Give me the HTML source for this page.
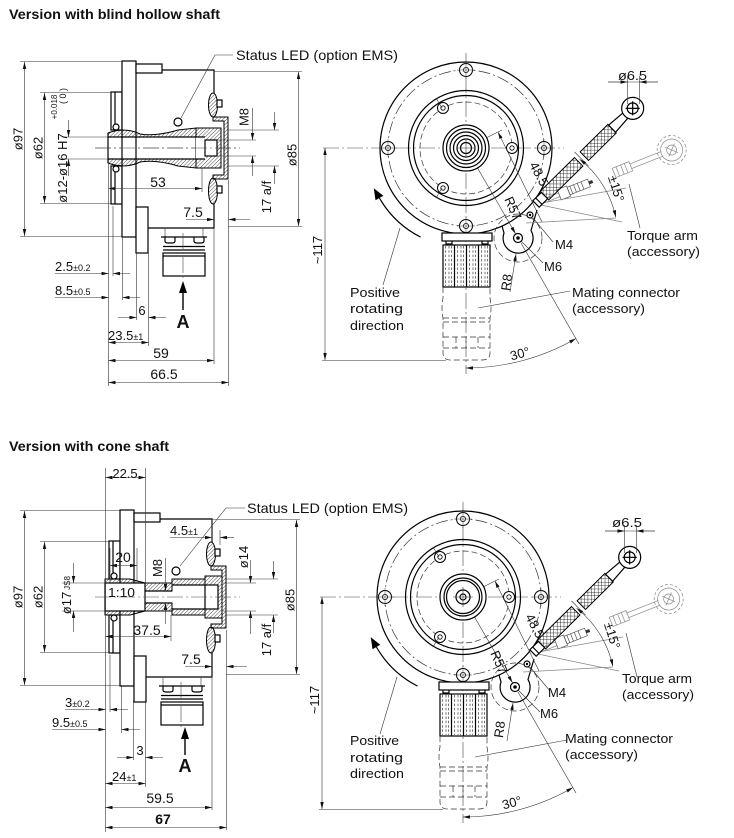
<!DOCTYPE html>
<html><head><meta charset="utf-8"><title>Encoder dimension drawing</title>
<style>
html,body{margin:0;padding:0;background:#fff;width:734px;height:838px;overflow:hidden}
svg{display:block}
text{font-family:"Liberation Sans",Arial,sans-serif;fill:#111}
.o{fill:none;stroke:#000;stroke-width:1.2}
.w{fill:#fff;stroke:#000;stroke-width:1.2}
.t{fill:none;stroke:#333;stroke-width:0.6}
.cl{fill:none;stroke:#444;stroke-width:0.6;stroke-dasharray:16 3 2 3}
.dd{fill:none;stroke:#333;stroke-width:0.7;stroke-dasharray:12 3 2 3}
.ds{fill:none;stroke:#333;stroke-width:0.7;stroke-dasharray:6 3}
.h{fill:url(#ht);stroke:#000;stroke-width:1}
.x{fill:url(#xh);stroke:#000;stroke-width:1}
.g{fill:none;stroke:#888;stroke-width:0.7}
</style></head><body>
<svg width="734" height="838" viewBox="0 0 734 838" xmlns="http://www.w3.org/2000/svg">
<defs>
<marker id="a" viewBox="0 0 8 4" refX="8" refY="2" markerWidth="7" markerHeight="3.5" orient="auto-start-reverse" markerUnits="userSpaceOnUse"><path d="M0,0L8,2L0,4z" fill="#111"/></marker>
<marker id="B" viewBox="0 0 10 8" refX="0" refY="4" markerWidth="12" markerHeight="9" orient="auto" markerUnits="userSpaceOnUse"><path d="M0,0L10,4L0,8z" fill="#000"/></marker>
<pattern id="ht" width="2.6" height="2.6" patternUnits="userSpaceOnUse" patternTransform="rotate(45)"><line x1="0" y1="0" x2="0" y2="2.6" stroke="#000" stroke-width="0.7"/></pattern>
<pattern id="xh" width="3.4" height="3.4" patternUnits="userSpaceOnUse" patternTransform="rotate(45)"><path d="M0,0H3.4M0,0V3.4" stroke="#000" stroke-width="0.8"/></pattern>

<g id="bo"><circle r="6.5" fill="#fff" stroke="#000" stroke-width="1"/><circle r="2.6" fill="none" stroke="#000" stroke-width="0.8"/><path d="M-9,0H9M0,-9V9" stroke="#444" stroke-width="0.5"/></g>
<g id="bi"><circle r="5.5" fill="#fff" stroke="#000" stroke-width="1"/><circle r="2.2" fill="none" stroke="#000" stroke-width="0.8"/></g>

<!-- left view common body (top coords) -->
<g id="lvb">
 <rect x="111" y="92" width="11" height="38" class="w" stroke-width="1"/>
 <line x1="115" y1="92" x2="115" y2="124" class="o" stroke-width="0.8"/>
 <circle cx="116" cy="127" r="3" class="w" stroke-width="0.9"/>
 <rect x="111" y="166" width="11" height="38" class="w" stroke-width="1"/>
 <line x1="115" y1="172" x2="115" y2="204" class="o" stroke-width="0.8"/>
 <circle cx="116" cy="169" r="3" class="w" stroke-width="0.9"/>
 <rect x="122" y="61" width="14" height="176" class="w" stroke-width="1.3"/>
 <rect x="136" y="64" width="26" height="9" class="w"/>
 <path class="o" d="M162,70H214V93M214,204V228H148"/>
 <rect x="136" y="207" width="12" height="46" class="w"/>
 <path class="h" d="M213,117H228V179H213V175H224V121H213Z"/>
 <ellipse cx="213" cy="105" rx="4.5" ry="12" class="h"/>
 <ellipse cx="213" cy="191" rx="4.5" ry="13" class="h"/>
 <rect x="217" y="100" width="5" height="7" class="w" stroke-width="0.8"/>
 <rect x="217" y="186" width="5" height="7" class="w" stroke-width="0.8"/>
 <circle cx="178" cy="122" r="4" class="w" stroke-width="1"/>
 <!-- connector -->
 <path class="t" d="M165,228V237M203,228V237"/>
 <path class="o" d="M161,237H207"/>
 <path class="o" stroke-width="0.9" d="M165,237v4q0,2 3,2h4q3,0 3,-2v-4M194,237v4q0,2 3,2h4q3,0 3,-2v-4"/>
 <path class="o" stroke-width="1.6" d="M163,246.5H205M163,250H205"/>
 <rect x="163" y="253" width="42" height="23" class="w"/>
 <line x1="163" y1="256" x2="205" y2="256" class="o" stroke-width="0.6"/>
 <line x1="183" y1="233" x2="183" y2="279" class="cl"/>
</g>

<!-- right view common (relative to hub centre) -->
<g id="rv">
 <line class="cl" x1="-143" y1="0" x2="98" y2="0"/>
 <line class="cl" x1="0" y1="-95" x2="0" y2="226"/>
 <circle r="86" class="o" stroke-width="1.4"/>
 <circle r="78" class="dd"/>
 <circle r="57.5" class="o" stroke-width="1.6"/>
 <circle r="52.5" class="o"/>
 <circle r="46" class="ds"/>
 <use href="#bo" x="0" y="-78"/><use href="#bo" x="-78" y="0"/><use href="#bo" x="78" y="0"/><use href="#bo" x="0" y="78"/>
 <use href="#bi" x="46" y="0"/><use href="#bi" x="-23" y="-40"/><use href="#bi" x="-23" y="40"/>
 <path class="t" d="M-30,-50l6,10M-30,50l6,-10"/>
 <!-- connector -->
 <rect x="-24" y="85" width="50" height="8" class="w" stroke-width="1.3"/>
 <path class="o" stroke-width="0.9" d="M-20,93v3h6v-3M16,93v3h6v-3"/>
 <rect x="-23" y="97" width="47" height="42" class="w"/>
 <g stroke="#555" stroke-width="0.8" stroke-dasharray="2.5 1.8">
  <path d="M-20.5,98V138M-17,98V138M-14.5,98V138M-8.5,98V138M-5,98V138M-2.5,98V138M3.5,98V138M7,98V138M9.5,98V138M15.5,98V138M19,98V138M21.5,98V138"/>
 </g>
 <path class="o" stroke-width="1.1" d="M-11.5,97V139M0.5,97V139M12.5,97V139"/>
 <path class="ds" d="M-23,139V150Q-25,160 -23,170V205Q-23,212 -15,212H16Q24,212 24,205V170Q26,160 24,150V139"/>
 <path class="ds" d="M-23,170H24M-23,174H24M-23,189H24M-23,200H24M-10,189V200M0,189V200M12,189V200"/>
 <!-- lug / pivot -->
 <path class="o" d="M36,78L38,85A15,15 0 1 0 65,82.5L71,62"/>
 <circle cx="52" cy="90" r="4.5" class="w"/><circle cx="52" cy="90" r="1.8" fill="#000"/>
 <circle cx="64" cy="67" r="3" class="w"/><circle cx="64" cy="67" r="1.2" fill="#000"/>
 <circle cx="52" cy="90" r="24" class="ds" stroke-dasharray="3 3"/>
 <!-- ghost arm -->
 <g transform="translate(70,56) rotate(-21.7)" class="g">
  <path d="M0,-2H25M0,2H25"/>
  <rect x="25" y="-5.5" width="10" height="11" stroke="#555"/>
  <rect x="35" y="-4" width="22" height="8" stroke="#555"/>
  <path d="M38,-4V4M42,-4V4M46,-4V4M50,-4V4" stroke="#555"/>
  <rect x="57" y="-1.5" width="4" height="3" fill="#333" stroke="none"/>
  <rect x="84" y="-5" width="18" height="10"/>
  <path d="M88,-5V5M93,-5V5M97,-5V5"/>
  <path d="M102,-2.5H136M102,2.5H136"/>
  <circle cx="146" r="11"/><circle cx="146" r="14.5" stroke-dasharray="3 2"/><circle cx="146" r="5"/>
  <path d="M141,-5L151,5M141,5L151,-5"/>
 </g>
 <path class="g" d="M70,56L160,40M70,56L156,74M60,75L150,70"/>
 <!-- main arm -->
 <g transform="translate(70,56) rotate(-44.7)">
  <rect x="0" y="-4.5" width="12" height="9" class="w"/>
  <line x1="4" y1="-4.5" x2="4" y2="4.5" class="o" stroke-width="0.8"/>
  <rect x="12" y="-6" width="48" height="12" class="x"/>
  <rect x="68" y="-6" width="39" height="12" class="x"/>
  <path class="w" d="M107,-5L127,-3.5V3.5L107,5Z"/>
  <circle cx="136" r="11" class="w" stroke-width="1.3"/>
  <circle cx="136" r="5.5" class="o"/>
  <path d="M131,-5L141,5M131,5L141,-5" class="o" stroke-width="0.7"/>
  <path class="t" d="M64,-10V10"/>
 </g>
 <!-- positive rotating arrow -->
 <path class="o" stroke-width="1.6" d="M-45.4,89.1A100,100 0 0 1 -86.6,50" marker-end="url(#B)"/>
 <!-- dims -->
 <path class="t" d="M0,0L49.5,85.7" marker-end="url(#a)"/>
 <path class="t" d="M55,95L113,196"/>
 <path class="t" d="M0,220A220,220 0 0 0 110,190.5" marker-start="url(#a)" marker-end="url(#a)"/>
 <path class="t" d="M0,0L36,-18"/>
 <path class="t" d="M32,-16L76,74" marker-start="url(#a)"/>
 <path class="t" d="M113.6,11.2A100,100 0 0 1 149.8,69.2" marker-start="url(#a)" marker-end="url(#a)"/>
 <path class="t" d="M161.5,-72V-44M173.5,-72V-44M142,-66H192"/>
 <path class="t" d="M142,-66H161.5" marker-end="url(#a)"/>
 <path class="t" d="M192,-66H173.5" marker-end="url(#a)"/>
 <path class="t" d="M44,144L50,106" marker-end="url(#a)"/>
 <path class="t" d="M-141,0V212" marker-start="url(#a)" marker-end="url(#a)"/>
 <path class="t" d="M-144,212.5H-20"/>
 <!-- leaders -->
 <path class="t" d="M-83,137L-66,80"/>
 <path class="t" d="M104,143L12,160"/>
 <path class="t" d="M87,94L67,70"/>
 <path class="t" d="M77,115L55,93"/>
 <path class="t" d="M174,80L163,36"/>
</g>
</defs>

<rect width="734" height="838" fill="#fff"/>

<!-- ================= TOP: blind hollow shaft ================= -->
<text x="9" y="19" font-size="14" font-weight="bold" textLength="211" lengthAdjust="spacingAndGlyphs">Version with blind hollow shaft</text>

<line class="cl" x1="95" y1="148" x2="240" y2="148"/>
<use href="#lvb"/>
<!-- shaft -->
<path class="h" d="M108,133C118,129 130,129 140,134C150,136 165,134 178,130L196,128V137H108Z"/>
<path class="h" d="M108,163C118,167 130,167 140,162C150,160 165,162 178,166L196,168V159H108Z"/>
<path class="h" d="M196,128H221V168H196Z"/>
<rect x="196" y="137" width="10" height="22" fill="#fff"/>
<rect x="205" y="140" width="12" height="16" class="w" stroke-width="1"/>
<path class="o" d="M108,133V163M108,137H205M108,159H205"/>
<line class="cl" x1="95" y1="148" x2="240" y2="148"/>

<!-- status LED top -->
<path class="t" d="M233,55H215L181,118"/>
<text x="236" y="60" font-size="14" textLength="162" lengthAdjust="spacingAndGlyphs">Status LED (option EMS)</text>

<!-- dims top-left -->
<path class="t" d="M20,61.5H122M20,236.5H122M40,92.5H111M40,203.5H111M62,137H108M62,159H108"/>
<path class="t" d="M24.5,62V236" marker-start="url(#a)" marker-end="url(#a)"/>
<path class="t" d="M44.5,93V203" marker-start="url(#a)" marker-end="url(#a)"/>
<path class="t" d="M68.5,120V137" marker-end="url(#a)"/>
<path class="t" d="M68.5,176V159" marker-end="url(#a)"/>
<text transform="translate(22.5,139) rotate(-90)" text-anchor="middle" font-size="13">ø97</text>
<text transform="translate(42.5,148) rotate(-90)" text-anchor="middle" font-size="13">ø62</text>
<text transform="translate(67,168) rotate(-90)" text-anchor="middle" font-size="13">ø12-ø16 H7</text>
<text transform="translate(57,107) rotate(-90)" text-anchor="middle" font-size="8">+0.018</text>
<text transform="translate(66,96) rotate(-90)" text-anchor="middle" font-size="9">( 0 )</text>

<path class="t" d="M202,168V192"/>
<path class="t" d="M108.5,188.5H202" marker-start="url(#a)" marker-end="url(#a)"/>
<text x="158" y="187" font-size="14" text-anchor="middle">53</text>

<path class="t" d="M186,219.5H214" marker-end="url(#a)"/>
<path class="t" d="M250,219.5H228.5" marker-end="url(#a)"/>
<text x="193" y="217" font-size="14" text-anchor="middle">7.5</text>

<path class="t" d="M217,140H256M217,156H256"/>
<path class="t" d="M252.5,108V140" marker-end="url(#a)"/>
<path class="t" d="M252.5,176V156" marker-end="url(#a)"/>
<text transform="translate(248.5,117) rotate(-90)" text-anchor="middle" font-size="13">M8</text>

<path class="t" d="M228,130H279M228,166H279"/>
<path class="t" d="M274.5,112V130" marker-end="url(#a)"/>
<path class="t" d="M274.5,184V166" marker-end="url(#a)"/>
<text transform="translate(271,197) rotate(-90)" text-anchor="middle" font-size="13">17 a/f</text>

<path class="t" d="M214,71.5H302M228,226.5H302"/>
<path class="t" d="M298.5,72V226" marker-start="url(#a)" marker-end="url(#a)"/>
<text transform="translate(296.5,155) rotate(-90)" text-anchor="middle" font-size="13">ø85</text>

<!-- bottom dims top-left -->
<path class="t" d="M108.5,163V386M113,206V276M122.5,237V300M136.5,253V320M148.5,253V346M214,228V364M228.5,180V386"/>
<path class="t" d="M55,273.5H108.5" marker-end="url(#a)"/>
<path class="t" d="M130,273.5H113" marker-end="url(#a)"/>
<text x="55" y="271" font-size="13">2.5<tspan font-size="9">±0.2</tspan></text>
<path class="t" d="M55,297.5H108.5" marker-end="url(#a)"/>
<path class="t" d="M140,297.5H122.5" marker-end="url(#a)"/>
<text x="55" y="295" font-size="13">8.5<tspan font-size="9">±0.5</tspan></text>
<path class="t" d="M118,317.5H136.5" marker-end="url(#a)"/>
<path class="t" d="M166,317.5H148.5" marker-end="url(#a)"/>
<text x="142" y="315" font-size="13" text-anchor="middle">6</text>
<path class="t" d="M108.5,342.5H148.5" marker-start="url(#a)" marker-end="url(#a)"/>
<text x="108" y="340" font-size="13">23.5<tspan font-size="9">±1</tspan></text>
<path class="t" d="M108.5,360.5H214" marker-start="url(#a)" marker-end="url(#a)"/>
<text x="161" y="358" font-size="14" text-anchor="middle">59</text>
<path class="t" d="M108.5,382.5H228.5" marker-start="url(#a)" marker-end="url(#a)"/>
<text x="164" y="379" font-size="14" text-anchor="middle">66.5</text>

<!-- view arrow A top -->
<polygon points="183,281 179,293 187,293" fill="#000"/>
<line x1="183" y1="292" x2="183" y2="310" stroke="#000" stroke-width="1.4"/>
<text x="183" y="328" font-size="18" font-weight="bold" text-anchor="middle">A</text>

<!-- right view top -->
<use href="#rv" x="466" y="148"/>
<g transform="translate(466,148)">
 <circle r="23" class="w" stroke-width="1.4"/>
 <circle r="19.5" class="o" stroke-width="1.2"/>
 <circle r="16" class="o" stroke-width="1.2"/>
 <circle r="12.5" class="o" stroke-width="1.2"/>
 <circle r="9" class="o" stroke-width="1.2"/>
 <circle r="5.5" class="o" stroke-width="1.3"/>
 <path class="t" d="M-8,0H8M0,-8V8"/>
</g>
<text transform="translate(322,250) rotate(-90)" text-anchor="middle" font-size="13">~117</text>
<text x="618" y="80" font-size="13" textLength="29" lengthAdjust="spacingAndGlyphs">ø6.5</text>
<text transform="translate(612,190) rotate(72)" text-anchor="middle" font-size="13">±15°</text>
<text transform="translate(535,176) rotate(62)" text-anchor="middle" font-size="13">48.5</text>
<text transform="translate(509,210) rotate(66)" text-anchor="middle" font-size="13">R57</text>
<text transform="translate(511,283) rotate(-82)" text-anchor="middle" font-size="13">R8</text>
<text transform="translate(521,358) rotate(-15)" text-anchor="middle" font-size="13">30°</text>
<text x="627" y="240" font-size="13" textLength="71" lengthAdjust="spacingAndGlyphs">Torque arm</text>
<text x="627" y="256" font-size="13" textLength="73" lengthAdjust="spacingAndGlyphs">(accessory)</text>
<text x="555" y="249" font-size="13">M4</text>
<text x="544" y="271" font-size="13">M6</text>
<text x="572" y="297" font-size="13" textLength="108" lengthAdjust="spacingAndGlyphs">Mating connector</text>
<text x="572" y="313" font-size="13" textLength="73" lengthAdjust="spacingAndGlyphs">(accessory)</text>
<text x="350" y="297" font-size="13" textLength="50" lengthAdjust="spacingAndGlyphs">Positive</text>
<text x="350" y="313" font-size="13" textLength="53" lengthAdjust="spacingAndGlyphs">rotating</text>
<text x="350" y="330" font-size="13" textLength="54" lengthAdjust="spacingAndGlyphs">direction</text>

<!-- ================= BOTTOM: cone shaft ================= -->
<text x="9" y="451" font-size="14" font-weight="bold" textLength="160" lengthAdjust="spacingAndGlyphs">Version with cone shaft</text>

<use href="#lvb" transform="translate(-2,449)"/>
<!-- cone shaft -->
<rect x="105" y="583" width="40" height="28" class="w"/>
<path class="h" d="M105,579H130L145,583H105Z"/>
<path class="h" d="M105,615H130L145,611H105Z"/>
<rect x="145" y="583" width="27" height="8" class="h"/>
<rect x="145" y="603" width="27" height="8" class="h"/>
<path class="h" d="M172,579H205V585H172Z"/>
<path class="h" d="M172,609H205V615H172Z"/>
<path class="h" d="M205,576H222V618H205Z"/>
<rect x="205" y="585" width="13" height="24" class="w" stroke-width="1"/>
<path class="o" d="M145,591H172M145,603H172M172,585H205M172,609H205"/>
<text x="108" y="597" font-size="13" textLength="27" lengthAdjust="spacingAndGlyphs">1:10</text>
<line class="cl" x1="95" y1="597" x2="240" y2="597"/>

<path class="t" d="M245,508H226L180,566"/>
<text x="247" y="513" font-size="14" textLength="161" lengthAdjust="spacingAndGlyphs">Status LED (option EMS)</text>

<!-- dims bottom-left -->
<path class="t" d="M105.5,468V832M145.5,468V583"/>
<path class="t" d="M105.5,477.5H145.5" marker-start="url(#a)" marker-end="url(#a)"/>
<text x="125" y="478" font-size="13" text-anchor="middle">22.5</text>

<path class="t" d="M20,510.5H120M20,685.5H120M40,541.5H110M40,652.5H110M62,583H105M62,611H105"/>
<path class="t" d="M24.5,511V685" marker-start="url(#a)" marker-end="url(#a)"/>
<path class="t" d="M44.5,542V652" marker-start="url(#a)" marker-end="url(#a)"/>
<path class="t" d="M73.5,563V583" marker-end="url(#a)"/>
<path class="t" d="M73.5,632V611" marker-end="url(#a)"/>
<text transform="translate(22.5,597) rotate(-90)" text-anchor="middle" font-size="13">ø97</text>
<text transform="translate(42.5,597) rotate(-90)" text-anchor="middle" font-size="13">ø62</text>
<text transform="translate(71,603) rotate(-90)" text-anchor="middle" font-size="13">ø17</text>
<text transform="translate(70,583) rotate(-90)" text-anchor="middle" font-size="8">JS8</text>

<path class="t" d="M110,548V583M137,548V583"/>
<path class="t" d="M110,565.5H137" marker-start="url(#a)" marker-end="url(#a)"/>
<text x="123" y="562" font-size="14" text-anchor="middle">20</text>

<path class="t" d="M165.5,558V591" marker-end="url(#a)"/>
<path class="t" d="M165.5,624V603" marker-end="url(#a)"/>
<text transform="translate(162,568) rotate(-90)" text-anchor="middle" font-size="13">M8</text>

<path class="t" d="M212,518V541M220,530V545"/>
<path class="t" d="M170,537.5H212" marker-end="url(#a)"/>
<path class="t" d="M234,537.5H220" marker-end="url(#a)"/>
<text x="170" y="535" font-size="13">4.5<tspan font-size="9">±1</tspan></text>

<path class="t" d="M223,583H256M223,611H256"/>
<path class="t" d="M250.5,560V583" marker-end="url(#a)"/>
<path class="t" d="M250.5,634V611" marker-end="url(#a)"/>
<text transform="translate(248,557) rotate(-90)" text-anchor="middle" font-size="13">ø14</text>

<path class="t" d="M171,615V641"/>
<path class="t" d="M105.5,636.5H171" marker-start="url(#a)" marker-end="url(#a)"/>
<text x="147" y="635" font-size="14" text-anchor="middle">37.5</text>

<path class="t" d="M185,666.5H212" marker-end="url(#a)"/>
<path class="t" d="M247,666.5H226.5" marker-end="url(#a)"/>
<text x="191" y="664" font-size="14" text-anchor="middle">7.5</text>

<path class="t" d="M226,579H278M226,615H278"/>
<path class="t" d="M273.5,561V579" marker-end="url(#a)"/>
<path class="t" d="M273.5,633V615" marker-end="url(#a)"/>
<text transform="translate(271,640) rotate(-90)" text-anchor="middle" font-size="13">17 a/f</text>

<path class="t" d="M212,519.5H300M226,674.5H300"/>
<path class="t" d="M296.5,520V674" marker-start="url(#a)" marker-end="url(#a)"/>
<text transform="translate(294.5,600) rotate(-90)" text-anchor="middle" font-size="13">ø85</text>

<path class="t" d="M110,655V712M121.5,685V733M133.5,700V760M145.5,700V787M212,676V810M226.5,630V830"/>
<path class="t" d="M65,709.5H105.5" marker-end="url(#a)"/>
<path class="t" d="M128,709.5H110" marker-end="url(#a)"/>
<text x="65" y="707" font-size="13">3<tspan font-size="9">±0.2</tspan></text>
<path class="t" d="M52,729.5H105.5" marker-end="url(#a)"/>
<path class="t" d="M140,729.5H121.5" marker-end="url(#a)"/>
<text x="52" y="727" font-size="13">9.5<tspan font-size="9">±0.5</tspan></text>
<path class="t" d="M117,757.5H133.5" marker-end="url(#a)"/>
<path class="t" d="M163,757.5H145.5" marker-end="url(#a)"/>
<text x="140" y="755" font-size="13" text-anchor="middle">3</text>
<path class="t" d="M105.5,783.5H145.5" marker-start="url(#a)" marker-end="url(#a)"/>
<text x="112" y="781" font-size="13">24<tspan font-size="9">±1</tspan></text>
<path class="t" d="M105.5,807.5H212" marker-start="url(#a)" marker-end="url(#a)"/>
<text x="160" y="803" font-size="14" text-anchor="middle">59.5</text>
<path class="t" d="M105.5,827.5H226.5" marker-start="url(#a)" marker-end="url(#a)"/>
<text x="163" y="824" font-size="14" font-weight="bold" text-anchor="middle">67</text>

<polygon points="185,727 181,739 189,739" fill="#000"/>
<line x1="185" y1="738" x2="185" y2="755" stroke="#000" stroke-width="1.4"/>
<text x="185" y="772" font-size="18" font-weight="bold" text-anchor="middle">A</text>

<!-- right view bottom -->
<use href="#rv" x="463" y="597"/>
<g transform="translate(463,597)">
 <circle r="23" class="w" stroke-width="1.4"/>
 <circle r="19" class="o" stroke-width="1.2"/>
 <circle r="16.5" class="o" stroke-width="0.8"/>
 <circle r="7" class="o" stroke-width="1.2"/>
 <circle r="3" class="o" stroke-width="0.8"/>
 <path class="t" d="M-10,0H10M0,-10V10"/>
</g>
<text transform="translate(319,700) rotate(-90)" text-anchor="middle" font-size="13">~117</text>
<text x="612" y="527" font-size="13" textLength="30" lengthAdjust="spacingAndGlyphs">ø6.5</text>
<text transform="translate(608,637) rotate(72)" text-anchor="middle" font-size="13">±15°</text>
<text transform="translate(531,628) rotate(62)" text-anchor="middle" font-size="13">48.5</text>
<text transform="translate(495,664) rotate(66)" text-anchor="middle" font-size="13">R57</text>
<text transform="translate(504,730) rotate(-82)" text-anchor="middle" font-size="13">R8</text>
<text transform="translate(513,807) rotate(-15)" text-anchor="middle" font-size="13">30°</text>
<text x="622" y="683" font-size="13" textLength="70" lengthAdjust="spacingAndGlyphs">Torque arm</text>
<text x="622" y="699" font-size="13" textLength="72" lengthAdjust="spacingAndGlyphs">(accessory)</text>
<text x="548" y="697" font-size="13">M4</text>
<text x="540" y="718" font-size="13">M6</text>
<text x="565" y="743" font-size="13" textLength="108" lengthAdjust="spacingAndGlyphs">Mating connector</text>
<text x="565" y="759" font-size="13" textLength="73" lengthAdjust="spacingAndGlyphs">(accessory)</text>
<text x="350" y="745" font-size="13" textLength="49" lengthAdjust="spacingAndGlyphs">Positive</text>
<text x="350" y="762" font-size="13" textLength="53" lengthAdjust="spacingAndGlyphs">rotating</text>
<text x="350" y="778" font-size="13" textLength="54" lengthAdjust="spacingAndGlyphs">direction</text>
</svg>
</body></html>
